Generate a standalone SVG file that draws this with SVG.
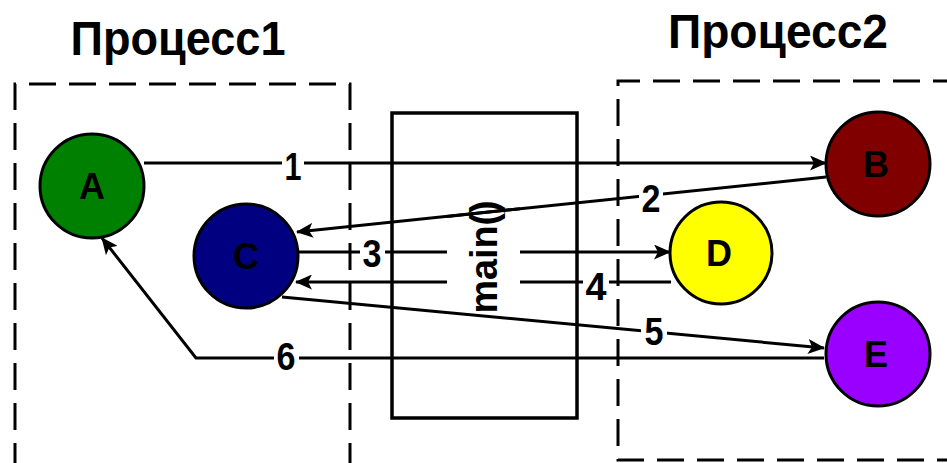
<svg xmlns="http://www.w3.org/2000/svg" width="947" height="463" viewBox="0 0 947 463">
<defs>
<marker id="arr" markerUnits="userSpaceOnUse" markerWidth="17" markerHeight="15" viewBox="0 0 17 15" refX="16" refY="7.5" orient="auto">
<path d="M0,0 L17,7.5 L0,15 L4,7.5 z" fill="#000"/>
</marker>
</defs>
<style>
.title{font-family:"Liberation Sans",Arial,sans-serif;font-weight:bold;font-size:48px;fill:#000}
.box{fill:none;stroke:#000;stroke-width:3;stroke-dasharray:27 13}
.node{stroke:#000;stroke-width:3}
.nl{font-family:"Liberation Sans",Arial,sans-serif;font-weight:bold;font-size:36px;fill:#000;text-anchor:middle}
.ln{fill:none;stroke:#000;stroke-width:3}
.lab{font-family:"Liberation Sans",Arial,sans-serif;font-weight:bold;font-size:39px;fill:#000;text-anchor:middle}
.bg{fill:#fff}
</style>
<rect width="947" height="463" fill="#fff"/>
<text class="title" x="178" y="55" text-anchor="middle" textLength="215" lengthAdjust="spacingAndGlyphs">Процесс1</text>
<text class="title" x="778" y="48" text-anchor="middle" textLength="220" lengthAdjust="spacingAndGlyphs">Процесс2</text>
<g id="process1"><path class="box" d="M15,470 V84 H350 V470"/></g>
<g id="process2"><path class="box" d="M960,81 H618 V460 H960"/></g>
<g id="main">
<rect x="392" y="113" width="185" height="305" fill="none" stroke="#000" stroke-width="3.5"/>
</g>
<g id="connectors">
<path class="ln" d="M144,163 H826" marker-end="url(#arr)"/>
<path class="ln" d="M826,177 L447,216.4"/>
<path class="ln" d="M520,208.8 L297,232" marker-end="url(#arr)"/>
<path class="ln" d="M299,252 H447"/>
<path class="ln" d="M520,252 H670" marker-end="url(#arr)"/>
<path class="ln" d="M671,282 H520"/>
<path class="ln" d="M447,282 H296" marker-end="url(#arr)"/>
<path class="ln" d="M282,297 L824,348" marker-end="url(#arr)"/>
<path class="ln" d="M824,358 H196 L102,238" marker-end="url(#arr)"/>
<rect class="bg" x="282" y="156" width="22" height="14"/>
<rect class="bg" x="639" y="190" width="24" height="16"/>
<rect class="bg" x="360" y="245" width="25" height="14"/>
<rect class="bg" x="583" y="275" width="26" height="14"/>
<rect class="bg" x="641" y="325" width="26" height="16"/>
<rect class="bg" x="274" y="351" width="25" height="14"/>
<text class="lab" x="293" y="180" textLength="17" lengthAdjust="spacingAndGlyphs">1</text>
<text class="lab" x="651" y="212" textLength="19" lengthAdjust="spacingAndGlyphs">2</text>
<text class="lab" x="372" y="267" textLength="19" lengthAdjust="spacingAndGlyphs">3</text>
<text class="lab" x="596" y="300" textLength="21" lengthAdjust="spacingAndGlyphs">4</text>
<text class="lab" x="654" y="345" textLength="19" lengthAdjust="spacingAndGlyphs">5</text>
<text class="lab" x="286" y="370" textLength="19" lengthAdjust="spacingAndGlyphs">6</text>
</g>
<text transform="translate(497,257) rotate(-90)" text-anchor="middle" font-family="Liberation Sans, Arial, sans-serif" font-weight="bold" font-size="38" textLength="113" lengthAdjust="spacingAndGlyphs">main()</text>
<g id="A"><circle class="node" cx="92" cy="186" r="52" fill="#008000"/><text class="nl" x="92" y="199">A</text></g>
<g id="C"><circle class="node" cx="246" cy="256" r="52" fill="#000080"/><text class="nl" x="246" y="269">C</text></g>
<g id="B"><circle class="node" cx="878" cy="164" r="52" fill="#800000"/><text class="nl" x="876" y="177">B</text></g>
<g id="D"><circle class="node" cx="721" cy="253" r="51" fill="#ffff00"/><text class="nl" x="719" y="266">D</text></g>
<g id="E"><circle class="node" cx="878" cy="354" r="52" fill="#9900ff"/><text class="nl" x="876" y="367">E</text></g>
</svg>
